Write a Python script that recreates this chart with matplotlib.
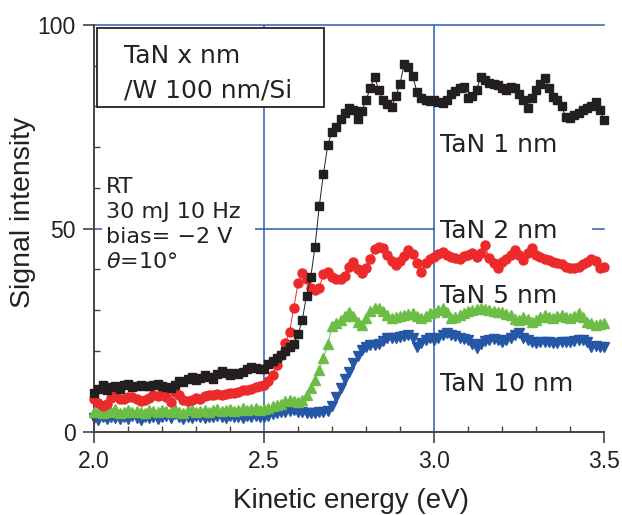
import numpy as np
import matplotlib
matplotlib.use("Agg")
import matplotlib.pyplot as plt
from matplotlib.ticker import MultipleLocator
from matplotlib.patches import Rectangle

plt.rcParams['font.family'] = ['DejaVu Sans']

# sampling grid of kinetic energy (eV)
energy = np.linspace(2.0, 3.5, 121)

tan1 = [9.5, 10.5, 11.5, 10.2, 11.0, 11.2, 10.5, 11.5, 11.8, 11.0,
        11.3, 11.6, 11.4, 11.2, 11.5, 11.8, 11.2, 11.0, 10.8, 11.6,
        12.5, 12.2, 13.0, 13.5, 12.8, 13.2, 14.0, 13.6, 13.0, 14.2,
        15.0, 14.6, 14.0, 14.5, 14.3, 14.8, 15.6, 16.0, 15.8, 15.4,
        15.6, 16.8, 17.5, 18.2, 18.8, 20.0, 20.8, 21.6, 24.0, 27.5,
        33.5, 38.0, 45.5, 55.5, 63.5, 70.5, 73.8, 75.0, 76.8, 78.3,
        79.5, 79.0, 76.9, 78.8, 81.5, 84.5, 87.3, 84.0, 81.5, 80.5,
        79.8, 82.5, 85.5, 90.5, 89.8, 87.5, 83.5, 82.0, 81.6, 81.4,
        81.6, 81.0, 80.8, 81.5, 83.0, 83.8, 84.6, 84.8, 82.0, 82.6,
        84.0, 87.3, 86.5, 85.8, 85.5, 85.2, 84.5, 84.0, 84.8, 84.5,
        83.0, 81.5, 79.6, 82.0, 84.0, 85.5, 87.0, 84.5, 82.3, 81.5,
        80.0, 77.5, 77.2, 77.8, 78.5, 79.0, 79.6, 80.2, 81.2, 79.2,
        76.7]

tan2 = [8.0, 7.2, 6.5, 6.8, 8.4, 8.8, 8.2, 8.0, 8.7, 8.5,
        8.0, 7.6, 7.9, 8.4, 9.0, 8.8, 9.1, 8.5, 7.4, 9.9,
        9.2, 7.9, 7.5, 7.8, 8.4, 8.2, 8.8, 9.0, 9.1, 9.4,
        9.0, 9.3, 9.5, 9.6, 9.8, 10.2, 10.3, 10.6, 11.0, 11.4,
        11.6, 12.5, 14.0, 16.5, 19.0, 21.9, 24.5, 30.5, 36.5, 39.0,
        37.5, 35.5, 34.9, 35.5, 38.8, 39.4, 38.2, 37.5, 37.6, 38.4,
        40.5, 41.8, 40.0, 39.0, 40.3, 42.5, 45.0, 45.5, 45.2, 43.5,
        42.0, 41.0, 42.0, 43.2, 44.7, 43.8, 41.5, 39.4, 41.5, 42.5,
        43.1, 43.8, 44.3, 43.6, 43.1, 42.8, 42.6, 43.2, 43.5, 44.0,
        43.0, 44.0, 45.9, 42.8, 41.5, 40.3, 41.8, 42.5, 43.5, 44.7,
        43.5, 42.3, 44.0, 45.2, 43.5, 43.1, 42.6, 42.3, 41.8, 41.5,
        41.2, 40.6, 40.4, 40.3, 40.5, 41.2, 41.8, 42.5, 42.0, 40.3,
        40.5]

tan5 = [4.8, 5.2, 4.6, 5.4, 4.9, 5.6, 4.7, 5.0, 5.5, 4.8,
        5.2, 5.0, 4.6, 5.3, 5.1, 4.8, 5.4, 5.2, 4.9, 5.6,
        5.0, 4.7, 5.3, 5.5, 4.9, 5.2, 5.4, 5.0, 5.3, 5.6,
        5.1, 5.4, 5.7, 5.2, 5.5, 5.8, 5.4, 5.6, 5.9, 5.5,
        5.6, 6.0, 6.3, 6.6, 7.0, 7.5, 7.9, 7.6, 7.4, 7.8,
        9.1, 10.8, 12.8, 15.2, 18.2, 21.5, 26.0, 26.8, 27.4, 28.5,
        29.6, 28.6, 27.0, 26.3, 28.0, 29.8, 30.5, 30.5, 29.8, 28.7,
        28.0, 28.2, 28.5, 28.8, 29.0, 29.2, 28.6, 28.0, 28.6, 29.2,
        29.6, 30.0, 30.5, 29.5, 28.0, 28.3, 28.7, 29.2, 29.8, 30.0,
        30.3, 30.5, 30.2, 30.0, 29.8, 29.6, 29.4, 29.0, 28.7, 27.8,
        27.5, 28.3, 27.8, 27.1, 27.6, 28.3, 28.7, 28.3, 28.0, 28.4,
        28.7, 28.3, 28.0, 28.6, 29.2, 28.2, 27.1, 26.8, 26.3, 26.6,
        26.8]

tan10 = [3.4, 3.0, 3.6, 3.2, 3.8, 3.4, 3.1, 3.7, 3.3, 3.9,
         3.5, 3.0, 3.6, 3.4, 3.8, 3.2, 3.6, 4.0, 3.5, 4.4,
         3.7, 3.3, 3.8, 3.5, 3.9, 3.6, 3.4, 3.8, 3.6, 4.0,
         3.7, 3.5, 3.9, 3.6, 3.8, 3.5, 3.9, 3.7, 4.0, 3.8,
         3.8, 4.0, 4.3, 4.6, 4.8, 5.0, 5.2, 5.4, 5.0, 4.8,
         4.6, 4.6, 4.7, 4.8, 4.9, 5.2, 6.5, 8.5, 10.8, 13.0,
         14.8, 16.9, 18.7, 20.2, 21.0, 21.4, 21.4, 21.5, 22.4, 23.1,
         23.1, 23.2, 23.4, 23.6, 23.8, 23.1, 21.0, 21.8, 22.6, 23.0,
         22.6, 23.2, 23.8, 24.3, 23.9, 23.5, 23.2, 22.9, 22.5, 21.5,
         20.6, 21.5, 22.4, 22.6, 22.8, 22.6, 22.1, 22.6, 23.0, 23.8,
         24.3, 23.2, 22.6, 22.0, 21.9, 22.1, 22.2, 22.0, 21.9, 21.9,
         22.0, 22.2, 22.2, 22.4, 22.5, 22.6, 22.0, 21.0, 21.2, 21.0,
         21.0]

series_labels = ["TaN 1 nm", "TaN 2 nm", "TaN 5 nm", "TaN 10 nm"]
x_ticks = [2.0, 2.5, 3.0, 3.5]
x_tick_labels = ["2.0", "2.5", "3.0", "3.5"]
y_ticks = [0, 50, 100]
y_tick_labels = ["0", "50", "100"]

W, H = 622, 515
BLUE_GRID = "#2a5caf"
SPINE = "#444444"
fig = plt.figure(figsize=(W/100, H/100), dpi=100)
ax = fig.add_axes([94/W, 1-432/H, 510/W, 407/H])
ax.set_xlim(2.0, 3.5)
ax.set_ylim(0, 100)

# grid lines
for gx in [2.5, 3.0]:
    ax.axvline(gx, color=BLUE_GRID, lw=1.1, zorder=1)
for gy in [50, 100]:
    ax.axhline(gy, color=BLUE_GRID, lw=1.1, zorder=1, clip_on=False)

# white patches that interrupt the grid behind annotations
ax.add_patch(Rectangle((2.024, 45), 0.45, 10, fc="white", ec="none", zorder=1.5))
ax.add_patch(Rectangle((3.003, 48), 0.462, 4, fc="white", ec="none", zorder=1.5))

styles = [
    dict(data=tan10, color="#2656a6", marker="v", ms=6.5),
    dict(data=tan5, color="#6cbd45", marker="^", ms=6.5),
    dict(data=tan2, color="#ec2a2b", marker="o", ms=6.5),
    dict(data=tan1, color="#231f20", marker="s", ms=5.3),
]
for z, s in enumerate(styles):
    ax.plot(energy, s["data"], color=s["color"], lw=0.7, zorder=2+z)
    ax.plot(energy, s["data"], ls="none", marker=s["marker"], ms=s["ms"],
            color=s["color"], mec=s["color"], zorder=2+z, clip_on=False)

for sp in ["top", "right"]:
    ax.spines[sp].set_visible(False)
for sp in ["left", "bottom"]:
    ax.spines[sp].set_color(SPINE)
    ax.spines[sp].set_linewidth(1.4)

ax.set_xticks(x_ticks)
ax.set_xticklabels(x_tick_labels)
ax.set_yticks(y_ticks)
ax.set_yticklabels(y_tick_labels)
ax.xaxis.set_minor_locator(MultipleLocator(0.1))
ax.yaxis.set_minor_locator(MultipleLocator(10))
ax.tick_params(which="major", direction="out", length=8, width=1.2,
               color=SPINE, labelsize=16.5, pad=5, labelcolor="#222222")
ax.tick_params(which="minor", direction="in", length=4, width=1.0,
               color=SPINE)
for lab in ax.get_xticklabels() + ax.get_yticklabels():
    lab.set_fontfamily("Liberation Sans")

# axis titles
fig.text(351/W, 1-508/H, "Kinetic energy (eV)", fontsize=20, family="Liberation Sans",
         ha="center", va="baseline", color="#222222")
fig.text(23/W, 1-212/H, "Signal intensity", fontsize=20.5, family="Liberation Sans",
         ha="center", va="center", rotation=90, color="#222222")

# box annotation
ax.add_patch(Rectangle((2.0088, 79.8), 0.668, 19.4, transform=ax.transData,
                       fc="white", ec="#222222", lw=1.3, zorder=9))
ax.text(2.088, 90.7, "TaN x nm", fontsize=18, va="baseline", ha="left",
        zorder=10, color="#222222")
ax.text(2.088, 82.3, "/W 100 nm/Si", fontsize=18, va="baseline", ha="left",
        zorder=10, color="#222222")

cond_lines = ["RT", "30 mJ 10 Hz", "bias= \u22122 V", "$\\theta$=10\u00b0"]
cond_y = [58.8, 52.6, 46.4, 40.3]
for t, yy in zip(cond_lines, cond_y):
    ax.text(2.035, yy, t, fontsize=16, va="baseline", ha="left", zorder=10,
            color="#222222")

lab_y = [68.9, 47.7, 31.7, 10.1]
for lbl, ly in zip(series_labels, lab_y):
    ax.text(3.0176, ly, lbl, fontsize=18, va="baseline", ha="left", zorder=10,
            color="#222222")

fig.savefig("out.png", dpi=100)
